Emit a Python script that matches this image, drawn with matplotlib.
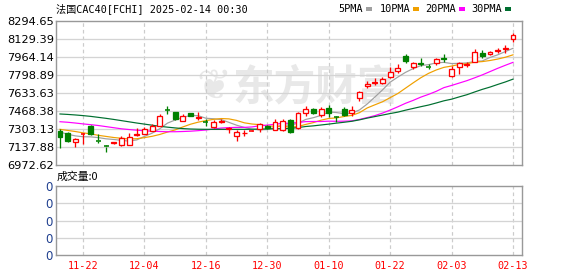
import matplotlib
matplotlib.use("Agg")
import matplotlib.pyplot as plt
from matplotlib.patches import Rectangle
import numpy as np

# ---------------- data ----------------
dates = ['11-19','11-20','11-21','11-22','11-25','11-26','11-27','11-28','11-29','12-02',
         '12-03','12-04','12-05','12-06','12-09','12-10','12-11','12-12','12-13','12-16',
         '12-17','12-18','12-19','12-20','12-23','12-24','12-27','12-30','12-31','01-02',
         '01-03','01-06','01-07','01-08','01-09','01-10','01-13','01-14','01-15','01-16',
         '01-17','01-20','01-21','01-22','01-23','01-24','01-27','01-28','01-29','01-30',
         '01-31','02-03','02-04','02-05','02-06','02-07','02-10','02-11','02-12','02-13']
opens = [7287,7269,7186,7254,7331,7199,7145,7172,7156,7156,7245,7260,7288,7333,7480,7456,7376,7450,7405,7368,
         7324,7370,7300,7241,7263,7280,7303,7330,7294,7290,7385,7309,7447,7487,7432,7499,7412,7487,7447,7590,
         7701,7728,7728,7783,7835,7973,7875,7906,7878,7906,7958,7792,7875,7891,7915,8004,7988,8022,8035,8127]
highs = [7300,7273,7223,7269,7337,7254,7156,7186,7239,7269,7315,7318,7349,7438,7514,7456,7438,7452,7456,7395,
         7386,7392,7324,7294,7294,7290,7360,7340,7395,7395,7392,7460,7514,7500,7505,7520,7422,7505,7514,7650,
         7745,7768,7780,7870,7900,7992,7915,7958,7897,7958,7996,7880,7915,7915,8035,8029,8020,8044,8074,8182]
lows = [7126,7181,7135,7163,7245,7177,7089,7165,7150,7156,7239,7255,7282,7333,7441,7386,7376,7420,7386,7334,
        7315,7361,7263,7193,7239,7275,7278,7305,7290,7285,7270,7300,7420,7440,7415,7415,7370,7420,7420,7560,
        7678,7707,7719,7768,7815,7912,7855,7884,7855,7890,7919,7780,7808,7870,7915,7952,7980,8004,7998,8099]
closes = [7232,7193,7214,7258,7260,7195,7141,7181,7218,7227,7254,7300,7331,7425,7477,7395,7419,7423,7412,7365,
          7370,7378,7309,7278,7269,7282,7352,7313,7370,7380,7279,7447,7484,7453,7484,7447,7410,7432,7477,7640,
          7716,7737,7765,7829,7865,7927,7906,7897,7875,7946,7950,7851,7906,7900,8013,7973,8013,8031,8049,8166]

ma5 = [7275,7255,7240,7232,7231,7224,7213,7207,7199,7192,7203,7235,7265,7306,7357,7386,7409,7428,7425,7402,
       7397,7389,7364,7338,7318,7301,7296,7298,7317,7339,7339,7356,7391,7407,7428,7460,7454,7444,7449,7478,
       7532,7596,7662,7733,7780,7823,7858,7885,7894,7910,7915,7904,7906,7910,7923,7928,7960,7984,8014,8044]
ma10 = [7300,7290,7280,7268,7258,7245,7235,7225,7218,7212,7214,7224,7236,7253,7275,7295,7322,7347,7366,7380,
        7392,7399,7396,7382,7360,7349,7343,7331,7328,7329,7320,7326,7345,7362,7384,7400,7405,7418,7428,7453,
        7496,7525,7553,7591,7629,7678,7727,7774,7814,7845,7869,7881,7896,7902,7917,7922,7932,7945,7962,7984]
ma20 = [7370,7365,7358,7350,7343,7335,7325,7315,7305,7298,7292,7287,7283,7280,7278,7278,7280,7283,7288,7294,
        7303,7312,7316,7318,7318,7322,7333,7339,7347,7355,7356,7363,7371,7372,7372,7375,7374,7375,7378,7391,
        7408,7426,7449,7477,7507,7539,7566,7596,7621,7649,7683,7703,7725,7747,7773,7800,7830,7860,7888,7915]
ma30 = [7441,7437,7432,7426,7419,7410,7401,7391,7380,7369,7358,7348,7338,7328,7320,7313,7307,7303,7301,7300,
        7300,7300,7300,7300,7300,7301,7302,7304,7305,7307,7309,7316,7326,7332,7340,7348,7357,7365,7374,7387,
        7403,7417,7431,7445,7458,7476,7492,7508,7523,7542,7562,7577,7598,7618,7643,7667,7688,7712,7735,7761]

y_ticks = [8294.65, 8129.39, 7964.14, 7798.89, 7633.63, 7468.38, 7303.13, 7137.88, 6972.62]
x_tick_labels = ['11-22', '12-04', '12-16', '12-30', '01-10', '01-22', '02-03', '02-13']
ma_names = ['5PMA', '10PMA', '20PMA', '30PMA']
volume_value = 0

# ---------------- style ----------------
UP = '#ff0000'
DOWN = '#008000'
MA_COLORS = ['#a0a0a0', '#f0a000', '#ff00ff', '#006f30']
SPINE = '#999999'
GRID = '#d4d4d4'
MONO = ['DejaVu Sans Mono', 'Noto Sans CJK SC']
PX = 0.72  # one pixel in points

W, H = 578, 276
fig = plt.figure(figsize=(W / 100, H / 100), dpi=100)
fig.patch.set_facecolor('white')

def fx(px):
    return px / W

def fy(py):
    return 1 - py / H

L, R = 56, 522
ax = fig.add_axes([fx(L), fy(165), fx(R - L), fy(21) - fy(165)])
axv = fig.add_axes([fx(L), fy(255), fx(R - L), fy(186) - fy(255)])

n = len(closes)
x = np.arange(n)
tick_idx = [dates.index(d) for d in x_tick_labels]
xlim = (-0.52, 60.17)

for a in (ax, axv):
    a.set_xlim(*xlim)
    for s in a.spines.values():
        s.set_color(SPINE)
        s.set_linewidth(1.4 * PX)
    a.set_xticks(tick_idx)
    a.tick_params(length=0)
    for t in tick_idx:
        a.axvline(t, color='#cccccc', lw=1.2 * PX, ls=(0, (3, 2.5)), zorder=1)

# price panel
ax.set_ylim(y_ticks[-1], y_ticks[0])
ax.set_yticks(y_ticks)
ax.set_yticklabels(['%.2f' % v for v in y_ticks], fontsize=8.2, color='#000000')
ax.tick_params(axis='y', pad=1.5)
ax.set_xticklabels([])
for v in y_ticks[1:-1]:
    ax.axhline(v, color=GRID, lw=1.3 * PX, zorder=1)

# watermark
ax.text(0.557, 0.54, '东方财富', transform=ax.transAxes, ha='center', va='center',
        fontsize=30, fontweight='bold', color='#e8e8e8', family=['Noto Sans CJK SC'], zorder=0)
ax.text(0.338, 0.54, '❦', transform=ax.transAxes, ha='center', va='center',
        fontsize=30, color='#e8e8e8', family=['DejaVu Sans'], zorder=0)

# MA lines
for vals, c in zip([ma5, ma10, ma20, ma30], MA_COLORS):
    ax.plot(x, vals, color=c, lw=1.2 * PX, zorder=2)

# candles
bw = 0.64
for i in range(n):
    o, h, l, c = opens[i], highs[i], lows[i], closes[i]
    up = c >= o
    col = UP if up else DOWN
    top, bot = max(o, c), min(o, c)
    ax.plot([i, i], [top, h], color=col, lw=1.3 * PX, zorder=3, solid_capstyle='butt')
    ax.plot([i, i], [l, bot], color=col, lw=1.3 * PX, zorder=3, solid_capstyle='butt')
    if top - bot < 6:
        ax.plot([i - bw / 2, i + bw / 2], [(top + bot) / 2] * 2, color=col, lw=1.6 * PX, zorder=4,
                solid_capstyle='butt')
    else:
        ax.add_patch(Rectangle((i - bw / 2, bot), bw, top - bot,
                               facecolor='white' if up else col, edgecolor=col, lw=1.3 * PX, zorder=4))

# title and legend
fig.text(fx(56), fy(9), '法国CAC40[FCHI] 2025-02-14 00:30', fontsize=7.3, family=MONO,
         ha='left', va='center', color='#000000')
leg_x = [338, 380, 425.5, 471.5]
sw_x = [365.5, 412.5, 459, 505]
for name, lx, sx, c in zip(ma_names, leg_x, sw_x, MA_COLORS):
    fig.text(fx(lx), fy(9), name, fontsize=7.4, family=MONO, ha='left', va='center', color='#000000')
    fig.patches.append(Rectangle((fx(sx), fy(10.5)), fx(6), fy(7.5) - fy(10.5), transform=fig.transFigure,
                                 facecolor=c, edgecolor='none'))

# volume panel
vol_ticks = np.linspace(0, 1, 5)
axv.set_ylim(0, 1)
axv.set_yticks(vol_ticks)
axv.set_yticklabels([str(volume_value)] * 5, fontsize=8.5, color='#1f3f8f')
axv.tick_params(axis='y', pad=2.5)
for v in vol_ticks[1:-1]:
    axv.axhline(v, color=GRID, lw=1.3 * PX, zorder=1)
axv.set_xticklabels(x_tick_labels, fontsize=7.3, family=MONO, color='#ff0000')
axv.tick_params(axis='x', pad=4)
fig.text(fx(57), fy(177), '成交量:%d' % volume_value, fontsize=7.8, family=['Noto Sans CJK SC', 'DejaVu Sans'],
         ha='left', va='center', color='#000000')

fig.savefig('out.png', dpi=100, facecolor='white')
